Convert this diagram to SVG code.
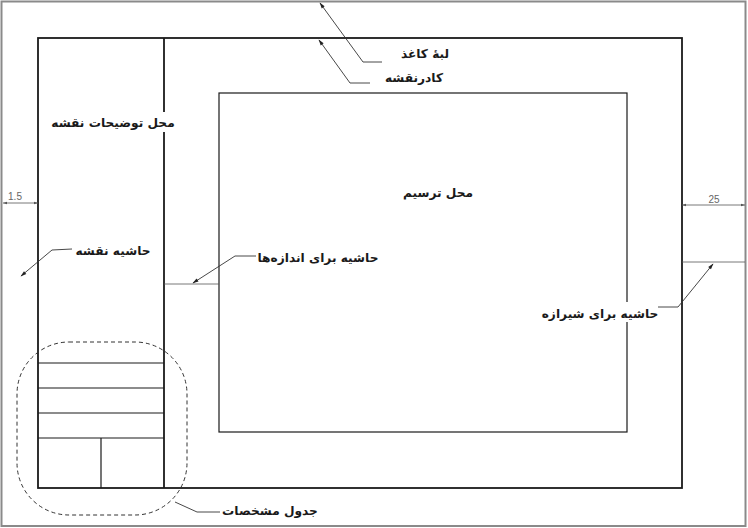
<svg xmlns="http://www.w3.org/2000/svg" width="748" height="528" viewBox="0 0 748 528">
<style>
.lbl{font-family:"DejaVu Sans",sans-serif;font-weight:bold;font-size:12.2px;fill:#1a1a1a;text-anchor:middle;direction:rtl}
.dim{font-family:"Liberation Sans",sans-serif;font-size:10px;fill:#666;text-anchor:middle}
.frame{fill:none;stroke:#1a1a1a;stroke-width:1.8}
.thin{fill:none;stroke:#1a1a1a;stroke-width:1.2}
.lead{fill:none;stroke:#333;stroke-width:0.9}
.dl{fill:none;stroke:#555;stroke-width:0.8}
</style>
<defs>
<marker id="ah" viewBox="0 0 10 10" refX="9" refY="5" markerWidth="9" markerHeight="6" orient="auto-start-reverse" markerUnits="userSpaceOnUse">
<path d="M0,2 L10,5 L0,8 Z" fill="#222"/>
</marker>
<marker id="dh" viewBox="0 0 10 10" refX="10" refY="5" markerWidth="6" markerHeight="4" orient="auto-start-reverse" markerUnits="userSpaceOnUse">
<path d="M0,2 L10,5 L0,8 Z" fill="#555"/>
</marker>
</defs>
<rect x="0" y="0" width="748" height="528" fill="#fff"/>
<g id="paper-edge"><rect x="1.5" y="1.5" width="744" height="524.5" fill="none" stroke="#8a8a8a" stroke-width="2"/></g>
<g id="frame"><rect class="frame" x="38" y="38" width="644" height="450"/></g>
<g id="notes-area"><line class="frame" x1="164" y1="38" x2="164" y2="488"/></g>
<g id="drawing-area"><rect class="thin" x="219" y="93" width="408" height="339"/></g>
<g id="title-block">
<line class="thin" x1="38" y1="363" x2="164" y2="363"/>
<line class="thin" x1="38" y1="388" x2="164" y2="388"/>
<line class="thin" x1="38" y1="413" x2="164" y2="413"/>
<line class="thin" x1="38" y1="438" x2="164" y2="438"/>
<line class="thin" x1="101" y1="438" x2="101" y2="488"/>
<rect x="17" y="342" width="170" height="173" rx="52" ry="52" fill="none" stroke="#333" stroke-width="1" stroke-dasharray="4,3"/>
</g>
<g id="dimensions">
<line class="dl" x1="3" y1="203" x2="38" y2="203" marker-start="url(#dh)" marker-end="url(#dh)"/>
<text class="dim" x="15" y="200">1.5</text>
<line class="dl" x1="164" y1="284" x2="219" y2="284"/>
<line class="dl" x1="682" y1="205" x2="745" y2="205" marker-start="url(#dh)" marker-end="url(#dh)"/>
<text class="dim" x="714" y="203">25</text>
<line class="dl" x1="682" y1="262" x2="745" y2="262"/>
</g>
<g id="connectors">
<polyline class="lead" points="382,62 363,62 320,3" marker-end="url(#ah)"/>
<polyline class="lead" points="370,83 350,83 319,40" marker-end="url(#ah)"/>
<polyline class="lead" points="72,249 52,250 21,276" marker-end="url(#ah)"/>
<polyline class="lead" points="256,256 235,256 193,283" marker-end="url(#ah)"/>
<polyline class="lead" points="658,307 678,307 713,264" marker-end="url(#ah)"/>
<polyline class="lead" points="220,512 197,512 175,502"/>
</g>
<g id="label-paper-edge"><text class="lbl" x="425" y="58">لبهٔ کاغذ</text></g>
<g id="label-frame"><text class="lbl" x="414" y="82">کادرنقشه</text></g>
<g id="label-notes">
<rect x="52" y="112" width="123" height="20" fill="#fff"/>
<text class="lbl" x="113" y="127">محل توضیحات نقشه</text></g>
<g id="label-drawing"><text class="lbl" x="438" y="197">محل ترسیم</text></g>
<g id="label-margin"><text class="lbl" x="113" y="255">حاشیه نقشه</text></g>
<g id="label-dim-margin"><text class="lbl" x="318" y="262">حاشیه برای اندازه‌ها</text></g>
<g id="label-binding">
<rect x="544" y="302" width="112" height="20" fill="#fff"/>
<text class="lbl" x="600" y="318">حاشیه برای شیرازه</text></g>
<g id="label-title-block"><text class="lbl" x="270" y="515">جدول مشخصات</text></g>
</svg>
